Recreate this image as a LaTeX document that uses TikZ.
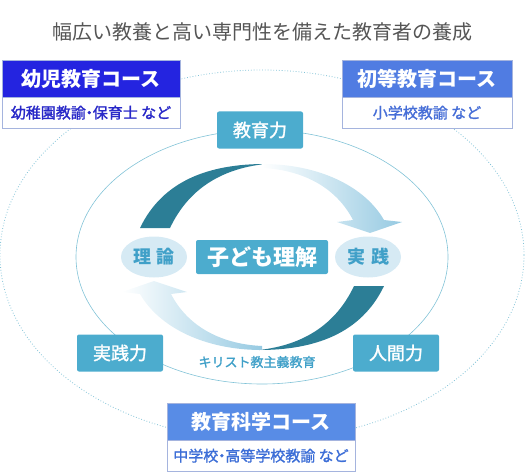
\documentclass[tikz,border=0pt]{standalone}
\usepackage{fontspec}
\setmainfont{Noto Sans CJK JP}
\newfontfamily\jpmid[FakeBold=1.5]{Noto Sans CJK JP}
\usetikzlibrary{positioning,shapes.geometric}

\definecolor{tealbox}{RGB}{76,172,206}
\definecolor{courseA}{RGB}{36,36,224}
\definecolor{courseB}{RGB}{80,124,226}
\definecolor{courseC}{RGB}{88,140,230}
\definecolor{subA}{RGB}{40,40,200}
\definecolor{subB}{RGB}{70,110,215}
\definecolor{subC}{RGB}{60,110,215}
\definecolor{boxline}{RGB}{165,180,222}
\definecolor{ring}{RGB}{130,195,215}
\definecolor{bubblefill}{RGB}{214,234,244}
\definecolor{bubbletext}{RGB}{64,160,200}
\definecolor{arcdark}{RGB}{44,126,150}
\definecolor{arclight}{RGB}{150,202,226}
\definecolor{titlegray}{RGB}{85,85,85}

\begin{document}
\begin{tikzpicture}[x=1pt, y=1pt,
    course/.style={draw=boxline, minimum height=37pt, inner sep=0pt, text=white, font=\fontsize{20}{24}\selectfont\bfseries},
    sub/.style={draw=boxline, fill=white, minimum height=30.5pt, inner sep=0pt, font=\jpmid\fontsize{15}{17}\selectfont},
    skill/.style={fill=tealbox, rounded corners=2pt, minimum width=86pt, minimum height=37pt, inner sep=0pt, text=white, font=\jpmid\fontsize{18}{20}\selectfont},
    bubble/.style={ellipse, fill=bubblefill, minimum width=66pt, minimum height=41pt, inner sep=0pt, text=bubbletext, font=\fontsize{18}{20}\selectfont\bfseries}
  ]
    \useasboundingbox (0,0) rectangle (526,472);

    \node[text=titlegray, font=\fontsize{20}{24}\selectfont] (title) at (262,440) {幅広い教養と高い専門性を備えた教育者の養成};

    % rings
    \draw[ring, dotted, line width=0.8pt] (262,217) ellipse [x radius=262, y radius=185];
    \draw[ring, line width=0.6pt] (262,215) ellipse [x radius=186, y radius=127];

    % courses
    \node[course, fill=courseA, minimum width=178pt] (kinder) at (91,393.5) {幼児教育コース};
    \node[sub, text=subA, minimum width=178pt, below=0pt of kinder] (kindersub) {幼稚園教諭\kern-4pt・\kern-4pt保育士 など};
    \node[course, fill=courseB, minimum width=170pt] (primary) at (427,393.5) {初等教育コース};
    \node[sub, text=subB, minimum width=170pt, below=0pt of primary] (primarysub) {小学校教諭 など};
    \node[course, fill=courseC, minimum width=188pt] (science) at (261,50.5) {教育科学コース};
    \node[sub, text=subC, minimum width=188pt, below=0pt of science] (sciencesub) {中学校\kern-4pt・\kern-4pt高等学校教諭 など};

    % skills on the inner ring
    \node[skill] (edu) at (260,342) {教育力};
    \node[skill] (practice) at (120,119) {実践力};
    \node[skill] (human) at (396,119) {人間力};
    \node[text=bubbletext, font=\jpmid\fontsize{13}{15}\selectfont] (christ) at (257,110) {キリスト教主義教育};

    % cycle arrows
    \fill[arcdark] (140,244) .. controls (163,292) and (210,308) .. (265,308)
      .. controls (220,303) and (188,282) .. (170,244) -- cycle;
    \shade[left color=white, right color=arclight] (262,308) .. controls (320,308) and (365,285) .. (384,252)
      -- (402,250) -- (370,239) -- (337,250) -- (353,252)
      .. controls (337,283) and (305,302) .. (262,304) -- cycle;
    \begin{scope}[rotate around={180:(262,215)}]
      \fill[arcdark] (140,244) .. controls (163,292) and (210,308) .. (265,308)
        .. controls (220,303) and (188,282) .. (170,244) -- cycle;
      \shade[left color=white, right color=arclight] (262,308) .. controls (320,308) and (365,285) .. (384,252)
        -- (402,250) -- (370,239) -- (337,250) -- (353,252)
        .. controls (337,283) and (305,302) .. (262,304) -- cycle;
    \end{scope}

    \node[fill=tealbox, rounded corners=2pt, minimum width=132pt, minimum height=34pt, inner sep=0pt, text=white, font=\fontsize{22}{24}\selectfont\bfseries] (child) at (262,215) {子ども理解};
    \node[bubble] (theory) at (154,215) {理\hspace{6pt}論};
    \node[bubble] (act) at (368,215) {実\hspace{6pt}践};
  \end{tikzpicture}
\end{document}
